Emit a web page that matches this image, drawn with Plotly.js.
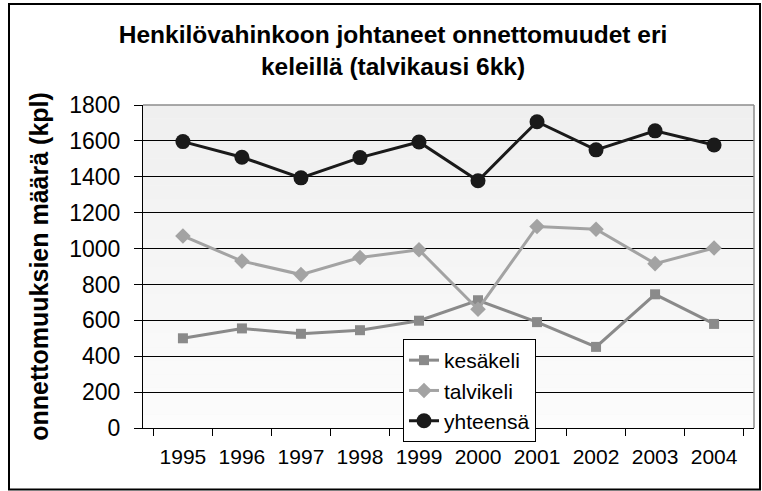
<!DOCTYPE html>
<html>
<head>
<meta charset="utf-8">
<script src="https://cdn.plot.ly/plotly-3.0.1.min.js"></script>
<style>html,body{margin:0;padding:0;background:#fff}#chart{width:762px;height:491px}</style>
</head>
<body>
<div id="chart"></div>
<script>
const years = ['1995','1996','1997','1998','1999','2000','2001','2002','2003','2004'];
const kesakeli = [500, 555, 525, 545, 598, 712, 590, 452, 745, 580];
const talvikeli = [1070, 930, 855, 950, 993, 662, 1123, 1108, 916, 1003];
const yhteensa = [1596, 1509, 1394, 1507, 1594, 1378, 1707, 1550, 1656, 1577];
const titleText = 'Henkilövahinkoon johtaneet onnettomuudet eri<br>keleillä (talvikausi 6kk)';
const yTitle = 'onnettomuuksien määrä (kpl)';

const FONT = 'Liberation Sans, Arial, sans-serif';
const W = 762, H = 491, mL = 143, mR = 8, mT = 105, mB = 63;
const pw = W - mL - mR, ph = H - mT - mB;
const px = x => (x - mL) / pw;
const py = y => (H - mB - y) / ph;

const traces = [
  {x: years, y: kesakeli, name: 'kesäkeli', type: 'scatter', mode: 'lines+markers',
   line: {color: '#8a8a8a', width: 3}, marker: {symbol: 'square', size: 10, color: '#8a8a8a'}, legendgroup: 'a'},
  {x: years, y: talvikeli, name: 'talvikeli', type: 'scatter', mode: 'lines+markers',
   line: {color: '#a3a3a3', width: 3}, marker: {symbol: 'diamond', size: 12, color: '#a3a3a3'}, legendgroup: 'b'},
  {x: years, y: yhteensa, name: 'yhteensä', type: 'scatter', mode: 'lines+markers',
   line: {color: '#1a1a1a', width: 3}, marker: {symbol: 'circle', size: 15, color: '#1a1a1a'}, legendgroup: 'c'}
];

// background gradient bands (light grey at top to near white at bottom)
const shapes = [];
const N = 24;
for (let i = 0; i < N; i++) {
  const t = i / (N - 1);
  const c = Math.round(0xef + (0xfc - 0xef) * t);
  const col = 'rgb(' + c + ',' + c + ',' + c + ')';
  shapes.push({type: 'rect', xref: 'paper', yref: 'paper', x0: 0, x1: 1,
    y0: 1 - (i + 1) / N, y1: 1 - i / N, line: {width: 0}, fillcolor: col, layer: 'below'});
}
shapes.push({type: 'line', xref: 'paper', yref: 'paper', x0: 0, x1: 1, y0: 1, y1: 1,
  line: {color: '#8c8c8c', width: 1.5}, layer: 'above'});
shapes.push({type: 'line', xref: 'paper', yref: 'paper', x0: 1, x1: 1, y0: 0, y1: 1,
  line: {color: '#8c8c8c', width: 1.5}, layer: 'above'});
shapes.push({type: 'rect', xref: 'paper', yref: 'paper', x0: px(9), x1: px(760), y0: py(489.5), y1: py(4),
  line: {color: '#000', width: 2}, fillcolor: 'rgba(0,0,0,0)', layer: 'above'});

const layout = {
  width: W, height: H,
  margin: {l: mL, r: mR, t: mT, b: mB, pad: 0},
  paper_bgcolor: '#ffffff',
  plot_bgcolor: '#f5f5f5',
  font: {family: FONT, color: '#000', size: 21},
  title: {text: titleText, x: 393 / W, xref: 'container', xanchor: 'center',
          y: 1 - 43 / H, yref: 'container', yanchor: 'top',
          font: {family: FONT, size: 24.5, color: '#000', weight: 'bold'}},
  showlegend: true,
  legend: {x: px(403), y: py(339), xanchor: 'left', yanchor: 'top', bgcolor: '#ffffff',
           bordercolor: '#000', borderwidth: 1, font: {family: FONT, size: 21, color: '#000'},
           tracegroupgap: 8, traceorder: 'normal'},
  xaxis: {type: 'category', showline: true, linecolor: '#000', linewidth: 1, ticks: 'outside',
          tickson: 'boundaries', ticklen: 7, tickcolor: '#000', showgrid: false, zeroline: false,
          tickfont: {family: FONT, size: 21, color: '#000'}, ticklabelstandoff: 10, fixedrange: true},
  yaxis: {range: [0, 1800], dtick: 200, showline: true, linecolor: '#000', linewidth: 1,
          ticks: 'outside', ticklen: 8, tickcolor: '#000', showgrid: true, gridcolor: '#000',
          gridwidth: 1, zeroline: false, tickfont: {family: FONT, size: 23, color: '#000'},
          ticklabelstandoff: 9,
          title: {text: yTitle, standoff: 13, font: {family: FONT, size: 25, color: '#000', weight: 'bold'}}},
  shapes: shapes
};

Plotly.newPlot('chart', traces, layout, {displayModeBar: false, staticPlot: true});
</script>
</body>
</html>
